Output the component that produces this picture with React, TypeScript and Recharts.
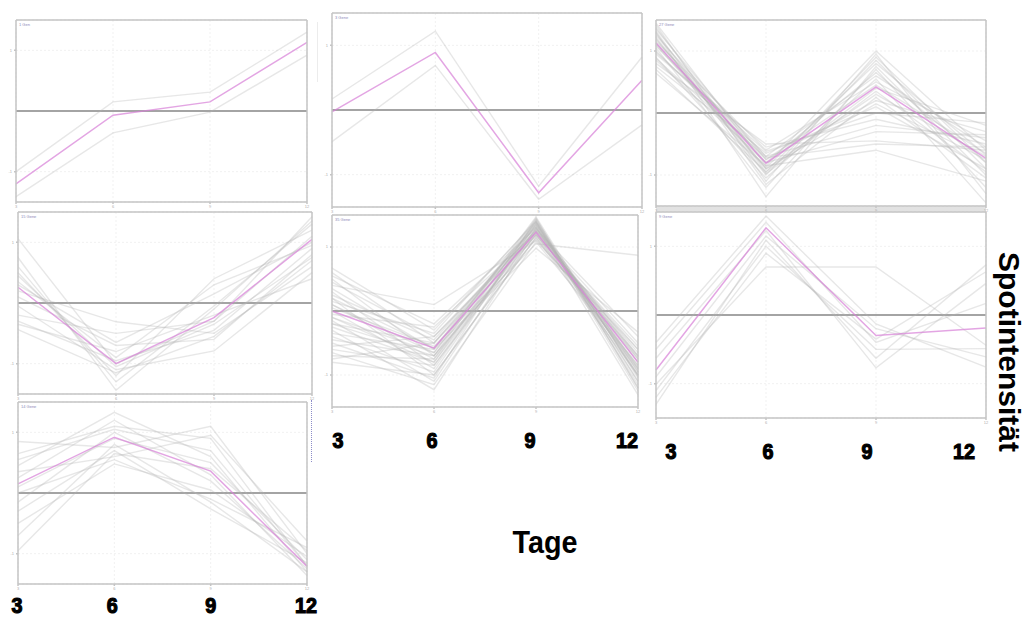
import React from "react";
import { LineChart, Line, XAxis, YAxis, CartesianGrid, ReferenceLine } from "recharts";

// Sampling days (x axis) and their printed labels
const days = [3, 6, 9, 12];
const dayLabels = ["3", "6", "9", "12"];
const yTicks = [-1, 1];
const clusterNames = ["1 Gen", "3 Gene", "27 Gene", "15 Gene", "35 Gene", "9 Gene", "14 Gene"];

// Cluster 1
const cluster1Mean = [-1.2, -0.07, 0.15, 1.13];
const cluster1Profiles = [
  [-1.0, 0.15, 0.31, 1.3],
  [-1.41, -0.36, -0.02, 0.92],
];

// Cluster 2
const cluster2Mean = [-0.03, 0.89, -1.28, 0.46];
const cluster2Profiles = [
  [0.17, 1.22, -1.18, 0.82],
  [-0.49, 0.69, -1.38, -0.23],
];

// Cluster 3
const cluster3Mean = [1.13, -0.81, 0.42, -0.73];
const cluster3Profiles = [
  [1.45, -0.85, 1.0, -0.6],
  [1.38, -0.95, 0.9, -0.8],
  [1.3, -1.35, 0.75, -1.0],
  [1.25, -0.7, 0.6, -0.55],
  [1.2, -1.0, 0.85, -0.9],
  [1.15, -0.6, 0.5, -0.45],
  [1.1, -0.9, 0.3, -0.7],
  [1.05, -1.2, 0.7, -1.2],
  [1.0, -0.75, 0.2, -0.3],
  [0.95, -0.55, -0.1, -0.5],
  [0.9, -1.05, 0.55, -1.45],
  [0.85, -0.8, -0.3, -0.35],
  [0.8, -0.5, -0.45, -0.6],
  [0.75, -0.65, 0.1, -0.9],
  [0.7, -0.95, 0.4, -0.2],
  [0.64, -0.85, -0.6, -1.1],
  [1.35, -0.75, 0.45, -0.65],
  [1.28, -0.9, 0.15, -0.75],
  [1.18, -0.8, 0.65, -0.8],
  [1.08, -0.7, -0.2, -0.4],
  [1.42, -1.1, 0.95, -1.3],
  [0.98, -0.62, 0.0, -0.16],
  [1.22, -0.98, 0.35, -0.95],
  [0.88, -0.72, -0.5, -0.55],
  [1.12, -0.88, 0.8, -0.68],
  [1.32, -1.15, 0.25, -1.05],
];

// Cluster 4
const cluster4Mean = [0.26, -1.0, -0.24, 1.05];
const cluster4Profiles = [
  [1.06, -1.0, -0.3, 1.42],
  [0.75, -1.44, -0.1, 1.35],
  [0.5, -1.2, 0.4, 1.2],
  [0.35, -0.9, 0.3, 0.95],
  [0.2, -0.31, -0.5, 0.6],
  [0.1, -0.7, -0.6, 0.8],
  [-0.05, -1.1, -0.79, 0.5],
  [-0.2, -0.5, -0.3, 1.1],
  [-0.35, -0.8, -0.2, 0.4],
  [-0.44, -1.15, -0.55, 0.7],
  [0.6, -1.3, -0.05, 1.3],
  [0.3, -0.65, 0.15, 1.0],
  [-0.3, -0.95, -0.45, 0.9],
  [0.45, -1.05, -0.35, 0.75],
];

// Cluster 5
const cluster5Mean = [0.0, -0.58, 1.23, -0.8];
const cluster5Profiles = [
  [0.67, -0.3, 1.4, -1.1],
  [0.6, -0.5, 1.35, -0.9],
  [0.55, -0.2, 1.3, -0.7],
  [0.5, -0.7, 1.45, -1.2],
  [0.45, -0.4, 1.25, -0.5],
  [0.4, 0.1, 1.1, -0.6],
  [0.35, -0.6, 1.38, -1.0],
  [0.3, -0.85, 1.2, -0.85],
  [0.25, -0.45, 1.32, -1.31],
  [0.2, -1.0, 1.15, -0.75],
  [0.15, -0.35, 1.42, -0.95],
  [0.1, -0.75, 1.28, -0.4],
  [0.05, -0.55, 1.05, 0.87],
  [0.0, -0.9, 1.36, -1.15],
  [-0.05, -0.25, 1.22, -0.65],
  [-0.1, -0.65, 1.47, -1.05],
  [-0.15, -1.1, 1.3, -0.8],
  [-0.2, -0.5, 1.18, -0.55],
  [-0.25, -0.8, 1.4, -1.25],
  [-0.3, -1.23, 1.25, -0.9],
  [-0.35, -0.6, 0.98, -0.33],
  [-0.4, -0.95, 1.35, -1.0],
  [-0.45, -0.7, 1.12, -0.7],
  [-0.5, -1.05, 1.44, -1.2],
  [-0.55, -0.4, 1.2, -0.6],
  [-0.6, -0.85, 1.3, -0.95],
  [-0.65, -1.15, 1.08, -0.85],
  [-0.7, -0.75, 1.38, -1.1],
  [-0.75, -0.5, 1.27, -0.75],
  [-0.8, -1.0, 1.15, -1.0],
  [0.1, -0.65, 1.33, -0.88],
  [-0.1, -0.8, 1.26, -0.72],
  [0.2, -0.58, 1.4, -1.02],
  [-0.2, -0.7, 1.19, -0.92],
];

// Cluster 6
const cluster6Mean = [-0.8, 1.27, -0.3, -0.19];
const cluster6Profiles = [
  [-0.4, 1.44, -0.13, -0.76],
  [-1.01, 0.7, 0.7, -0.44],
  [-1.3, 1.09, -0.63, 0.73],
  [-0.63, 1.23, -0.77, 0.46],
  [-0.5, 1.35, -0.4, 0.17],
  [-1.1, 1.0, -0.5, -0.49],
  [-0.9, 1.15, -0.2, -0.61],
  [-1.2, 0.9, -0.35, 0.63],
];

// Cluster 7
const cluster7Mean = [0.15, 0.92, 0.36, -1.21];
const cluster7Profiles = [
  [0.85, 0.75, 1.1, -1.0],
  [0.65, 1.1, 0.9, -1.2],
  [0.45, 1.33, 0.6, -1.3],
  [0.35, 0.6, 0.95, -0.79],
  [0.25, 1.2, 0.3, -1.36],
  [0.1, 0.9, 0.5, -1.1],
  [0.0, 0.55, -0.1, -0.9],
  [-0.15, 1.0, 0.2, -1.25],
  [-0.3, 0.7, -0.26, -1.15],
  [-0.5, 0.48, 0.05, -1.05],
  [-0.7, 0.8, -0.15, -1.3],
  [-0.95, 0.65, 0.4, -0.95],
  [0.55, 1.05, 0.7, -1.2],
];

const clusterMeans = [cluster1Mean, cluster2Mean, cluster3Mean, cluster4Mean, cluster5Mean, cluster6Mean, cluster7Mean];
const clusterProfiles = [
  cluster1Profiles,
  cluster2Profiles,
  cluster3Profiles,
  cluster4Profiles,
  cluster5Profiles,
  cluster6Profiles,
  cluster7Profiles,
];

// Plot-area boxes on the page and the placement of the large day labels
type Box = { left: number; top: number; width: number; height: number; shifts?: number[]; drop?: number };
const panelBoxes: Box[] = [
  { left: 16, top: 20, width: 291, height: 182 },
  { left: 332, top: 13, width: 310, height: 194 },
  { left: 656, top: 20, width: 330, height: 186 },
  { left: 18, top: 212, width: 294, height: 182 },
  { left: 332, top: 215, width: 306, height: 192, shifts: [6, -2, -6, -11], drop: 41 },
  { left: 656, top: 212, width: 330, height: 206, shifts: [15, 2, -9, -22], drop: 41 },
  { left: 18, top: 402, width: 289, height: 182, shifts: [-1, -2, 0, -1], drop: 29 },
];

const AXIS_LEFT = 10;
const AXIS_TOP = 3;
const SIDE_PAD = 16; // room for the large day labels beyond the frame
const FRAME = "#c4c4c4";

function ClusterPanel({ index }: { index: number }) {
  const box = panelBoxes[index];
  const mean = clusterMeans[index];
  const profiles = clusterProfiles[index];
  const rows = days.map((d, i) => {
    const r: Record<string, number> = { day: d, mean: mean[i] };
    profiles.forEach((p, k) => {
      r[`g${k}`] = p[i];
    });
    return r;
  });
  const axisBottom = box.shifts ? (box.drop as number) + 6 : 6;
  const plotBottom = AXIS_TOP + box.height;

  const renderTick = (props: any) => {
    const { x, payload, index: ti } = props;
    const label = dayLabels[ti];
    return (
      <g>
        <text x={x} y={plotBottom + 6} fontSize={4} fill="#b0b0b0" textAnchor="middle">
          {payload.value}
        </text>
        {box.shifts && (
          <text
            x={x + box.shifts[ti]}
            y={plotBottom + (box.drop as number)}
            textAnchor="middle"
            fontFamily="'Liberation Sans', Arial, sans-serif"
            fontWeight="bold"
            fontSize={22}
            textLength={label.length * 11}
            lengthAdjust="spacingAndGlyphs"
            fill="#000"
            stroke="#000"
            strokeWidth={1.2}
          >
            {label}
          </text>
        )}
      </g>
    );
  };

  return (
    <div style={{ position: "absolute", left: box.left - AXIS_LEFT - SIDE_PAD, top: box.top - AXIS_TOP }}>
      <LineChart
        width={box.width + AXIS_LEFT + 1 + 2 * SIDE_PAD}
        height={box.height + AXIS_TOP + axisBottom}
        data={rows}
        margin={{ top: 0, right: SIDE_PAD, bottom: 0, left: SIDE_PAD }}
      >
        <CartesianGrid xAxisId="b" yAxisId="l" stroke="#f1f1f1" strokeDasharray="2 2" />
        <XAxis
          xAxisId="b"
          dataKey="day"
          type="number"
          domain={[3, 12]}
          ticks={days}
          interval={0}
          orientation="bottom"
          height={axisBottom}
          stroke={FRAME}
          strokeWidth={1.5}
          tickSize={2}
          tick={renderTick}
        />
        <XAxis
          xAxisId="t"
          dataKey="day"
          type="number"
          domain={[3, 12]}
          ticks={days}
          orientation="top"
          height={AXIS_TOP}
          stroke={FRAME}
          strokeWidth={1.5}
          tickSize={2}
          tick={false}
        />
        <YAxis
          yAxisId="l"
          type="number"
          domain={[-1.5, 1.5]}
          ticks={yTicks}
          width={AXIS_LEFT}
          stroke={FRAME}
          strokeWidth={1.5}
          tickSize={2}
          tick={{ fontSize: 4, fill: "#b0b0b0" }}
          allowDataOverflow
        />
        <YAxis
          yAxisId="r"
          orientation="right"
          type="number"
          domain={[-1.5, 1.5]}
          width={1}
          stroke={FRAME}
          strokeWidth={1.5}
          tick={false}
          tickLine={false}
        />
        <ReferenceLine xAxisId="b" yAxisId="l" y={0} stroke="#a4a4a4" strokeWidth={2} />
        {profiles.map((_, k) => (
          <Line
            key={k}
            xAxisId="b"
            yAxisId="l"
            dataKey={`g${k}`}
            stroke="#b4b4b4"
            strokeOpacity={0.32}
            strokeWidth={1.4}
            dot={false}
            isAnimationActive={false}
          />
        ))}
        <Line
          xAxisId="b"
          yAxisId="l"
          dataKey="mean"
          stroke="#d77fd7"
          strokeOpacity={0.7}
          strokeWidth={1.5}
          dot={false}
          isAnimationActive={false}
        />
      </LineChart>
      <div
        style={{
          position: "absolute",
          left: SIDE_PAD + AXIS_LEFT + 3,
          top: AXIS_TOP + 2,
          fontSize: 4,
          color: "#8a8ab8",
          fontFamily: "'Liberation Sans', Arial, sans-serif",
          whiteSpace: "nowrap",
        }}
      >
        {clusterNames[index]}
      </div>
    </div>
  );
}

export default function App() {
  return (
    <div
      style={{
        position: "absolute",
        left: 0,
        top: 0,
        width: 1028,
        height: 621,
        background: "#fff",
        overflow: "hidden",
        fontFamily: "'Liberation Sans', Arial, sans-serif",
      }}
    >
      {/* band between the two right-hand panels */}
      <div style={{ position: "absolute", left: 656, top: 206, width: 330, height: 6, background: "#e2e2e2" }} />
      {/* thin separator to the right of the first column */}
      <div style={{ position: "absolute", left: 317, top: 22, width: 1, height: 60, background: "#ececec" }} />
      {/* dotted marker beside the bottom-left panel */}
      <div
        style={{
          position: "absolute",
          left: 311,
          top: 400,
          width: 0,
          height: 62,
          borderLeft: "1.5px dotted #8c8cc8",
        }}
      />
      {panelBoxes.map((_, i) => (
        <ClusterPanel key={i} index={i} />
      ))}
      <svg
        width={1028}
        height={621}
        style={{ position: "absolute", left: 0, top: 0, pointerEvents: "none" }}
      >
        <text
          x={545}
          y={553}
          textAnchor="middle"
          fontFamily="'Liberation Sans', Arial, sans-serif"
          fontWeight="bold"
          fontSize={32}
          textLength={65}
          lengthAdjust="spacingAndGlyphs"
          fill="#000"
        >
          Tage
        </text>
        <text
          transform="translate(999,252) rotate(90)"
          fontFamily="'Liberation Sans', Arial, sans-serif"
          fontWeight="bold"
          fontSize={29}
          textLength={200}
          lengthAdjust="spacingAndGlyphs"
          fill="#000"
        >
          Spotintensität
        </text>
      </svg>
    </div>
  );
}
